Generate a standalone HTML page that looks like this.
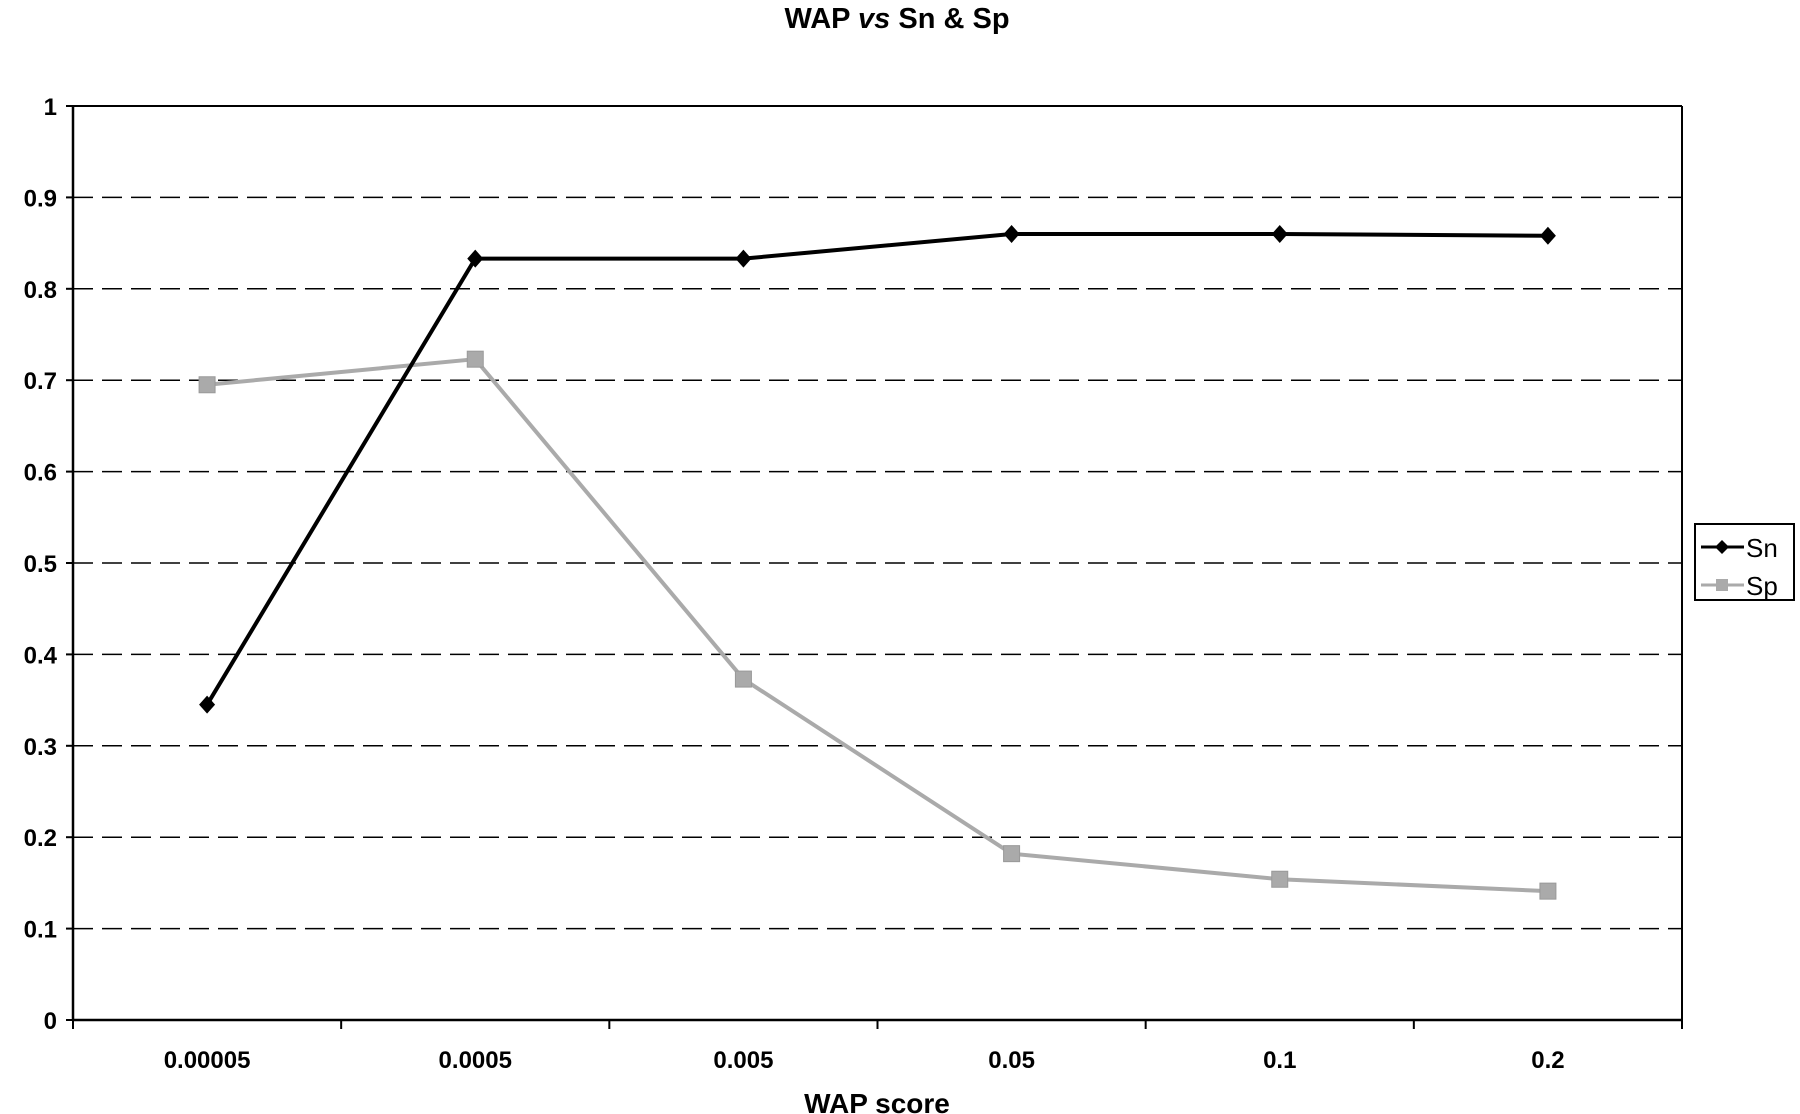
<!DOCTYPE html>
<html><head><meta charset="utf-8"><style>
html,body{margin:0;padding:0;background:#fff;}
svg{display:block;font-family:"Liberation Sans",Arial,sans-serif;}
</style></head><body>
<svg id="chart" width="1800" height="1114" viewBox="0 0 1800 1114">
<text x="897" y="28" text-anchor="middle" font-size="29" font-weight="bold">WAP <tspan font-style="italic">vs</tspan> Sn &amp; Sp</text>
<g id="grid"></g><g id="axes"></g><g id="series"></g>
<g>
<rect x="1695" y="524" width="99" height="76" fill="#fff" stroke="#000" stroke-width="2"/>
<g>
<line x1="1701" y1="547" x2="1744" y2="547" stroke="#000" stroke-width="3"/>
<path d="M1722,540 L1729,547 L1722,554 L1715,547Z" fill="#000"/>
<text x="1746" y="557" font-size="26">Sn</text></g>
<g>
<line x1="1701" y1="585" x2="1744" y2="585" stroke="#aaa" stroke-width="3"/>
<rect x="1716" y="579" width="12" height="12" fill="#aaa"/>
<text x="1746" y="595" font-size="26">Sp</text></g>
</g>
<text x="877" y="1113" text-anchor="middle" font-size="28" font-weight="bold">WAP score</text>
</svg>
<script>
const categories=["0.00005","0.0005","0.005","0.05","0.1","0.2"];
const snValues=[0.345,0.833,0.833,0.86,0.86,0.858];
const spValues=[0.695,0.723,0.373,0.182,0.154,0.141];
const yTicks=[0,0.1,0.2,0.3,0.4,0.5,0.6,0.7,0.8,0.9,1];
const L=73,R=1682,T=106,B=1020;
const NS="http://www.w3.org/2000/svg";
const band=(R-L)/categories.length;
const xs=i=>L+band*(i+0.5);
const ys=v=>B-(B-T)*v;
function mk(tag,attrs,parent){const e=document.createElementNS(NS,tag);for(const k in attrs)e.setAttribute(k,attrs[k]);parent.appendChild(e);return e;}
const grid=document.getElementById('grid'),axes=document.getElementById('axes'),ser=document.getElementById('series');
yTicks.forEach(v=>{
  if(v>0&&v<1){const g=mk('line',{x1:L,x2:R,y1:ys(v),y2:ys(v),stroke:'#000','stroke-width':1.5,'stroke-dasharray':'20 9'},grid);
  
  }
  const t=mk('text',{x:L-16,y:ys(v)+9,'text-anchor':'end','font-size':24,'font-weight':'bold'},axes);
  t.textContent=String(v);
  
  
  mk('line',{x1:L-7,x2:L,y1:ys(v),y2:ys(v),stroke:'#000','stroke-width':2},axes);
});
mk('line',{x1:L,x2:R,y1:T,y2:T,stroke:'#000','stroke-width':2},axes);
mk('line',{x1:R,x2:R,y1:T,y2:B,stroke:'#000','stroke-width':2},axes);
const ya=mk('line',{x1:L,x2:L,y1:T,y2:B,stroke:'#000','stroke-width':2.5},axes);


const xa=mk('line',{x1:L,x2:R,y1:B,y2:B,stroke:'#000','stroke-width':2.5},axes);


for(let i=0;i<=categories.length;i++){mk('line',{x1:L+band*i,x2:L+band*i,y1:B,y2:B+9,stroke:'#000','stroke-width':2},axes);}
categories.forEach((c,i)=>{const t=mk('text',{x:xs(i),y:1068,'text-anchor':'middle','font-size':24,'font-weight':'bold'},axes);
t.textContent=c;

});
function drawLine(vals,color,name,marker){
  const p=mk('polyline',{points:vals.map((v,i)=>xs(i)+','+ys(v)).join(' '),fill:'none',stroke:color,'stroke-width':4},ser);
  
  
  vals.forEach((v,i)=>{const x=xs(i),y=ys(v);let m;
    if(marker==='d')m=mk('path',{d:`M${x},${y-9}L${x+8},${y}L${x},${y+9}L${x-8},${y}Z`,fill:color},ser);
    else m=mk('rect',{x:x-8,y:y-8,width:16,height:16,fill:color,stroke:'#999','stroke-width':1},ser);
    
    });
}
drawLine(spValues,'#aaa','sp','s');
drawLine(snValues,'#000','sn','d');
</script>
</body></html>
